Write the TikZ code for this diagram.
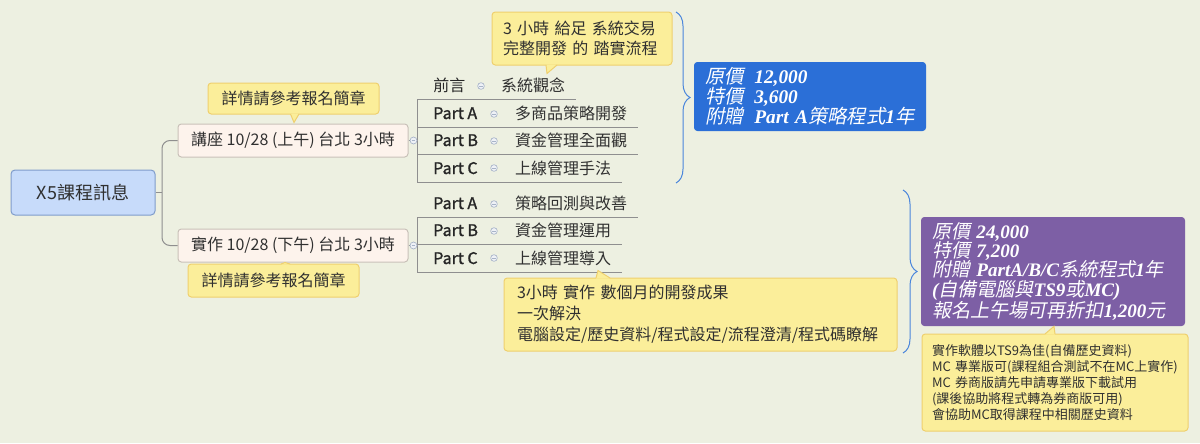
\documentclass[tikz,border=0pt]{standalone}
\usepackage{fontspec}
\setmainfont{Noto Sans CJK TC}
\newfontfamily\zhsl[FakeSlant=0.2]{Noto Sans CJK TC}
\newfontfamily\zhmd[FakeBold=1.4]{Noto Sans CJK TC}
\newfontfamily\enbi{Liberation Serif}
\newcommand\pn[1]{{\enbi\bfseries\itshape #1}}
\usepackage{tikz}
\usetikzlibrary{positioning,calc,decorations.pathreplacing}

\definecolor{bgcol}{HTML}{EDF0E1}
\definecolor{rootfill}{HTML}{C7DBFA}
\definecolor{rootline}{HTML}{7F9CCB}
\definecolor{topicfill}{HTML}{FDF3EC}
\definecolor{topicline}{HTML}{C9C1B9}
\definecolor{notefill}{HTML}{FBEE9A}
\definecolor{noteline}{HTML}{EFD06E}
\definecolor{linecol}{HTML}{8F8F8F}
\definecolor{bracecol}{HTML}{4A86DC}
\definecolor{bluebox}{HTML}{2B6FD7}
\definecolor{purplebox}{HTML}{7D5FA5}
\definecolor{txt}{HTML}{303030}
\definecolor{iconline}{HTML}{A8B4C8}
\definecolor{iconfill}{HTML}{EEF1F6}

\tikzset{
  root/.style={draw=rootline, fill=rootfill, rounded corners=3pt, line width=0.75pt,
    minimum width=108pt, minimum height=33.75pt, text=txt,
    font=\fontsize{13.5}{16}\selectfont},
  topic/.style={draw=topicline, fill=topicfill, rounded corners=2.5pt, line width=0.75pt,
    minimum width=172.5pt, minimum height=24.75pt, text=txt,
    font=\fontsize{12}{14}\selectfont},
  note/.style={draw=noteline, fill=notefill, rounded corners=2.5pt, line width=0.75pt,
    text=txt, align=left, inner ysep=0pt},
  tipline/.style={draw=noteline, line width=0.75pt},
  conn/.style={draw=linecol, line width=0.75pt},
  tag/.style={anchor=base west, inner sep=0pt, text=black!85,
    font=\zhmd\fontsize{12}{14}\selectfont},
  desc/.style={anchor=base west, inner xsep=0pt, outer xsep=8.25pt, outer ysep=0pt,
    inner ysep=3pt, text depth=3pt, text=txt, font=\fontsize{12}{14}\selectfont},
  fold/.style={circle, draw=iconline, fill=iconfill, minimum size=5pt, inner sep=0pt,
    line width=0.5pt, path picture={\draw[iconline, line width=0.6pt]
      ([xshift=-1.4pt]path picture bounding box.center) --
      ([xshift=1.4pt]path picture bounding box.center);}},
  price/.style={rounded corners=2.5pt, text=white, align=left, inner xsep=8.25pt,
    inner ysep=0pt, font=\zhsl\fontsize{14.5}{15}\selectfont},
  brace/.style={draw=bracecol, line width=0.75pt, decorate,
    decoration={brace, amplitude=10.5pt}}
}

\begin{document}
\begin{tikzpicture}[x=0.75pt,y=-0.75pt]
\fill[bgcol] (0,0) rectangle (1200,443);

\node[root] (root) at (83,192.5) {X5課程訊息};
\node[topic] (am) at (293,140.5) {講座 10/28 (上午) 台北 3小時};
\node[topic] (pm) at (293,245.5) {實作 10/28 (下午) 台北 3小時};

\coordinate (sp0) at (162,0);
\coordinate (sp1) at (417,0);
\draw[conn] (root.east) -- (root.east -| sp0);
\draw[conn, rounded corners=6pt] (am.west) -| (root.east -| sp0) |- (pm.west);
\draw[conn] (am.east) -- (am.east -| sp1);
\draw[conn] (pm.east) -- (pm.east -| sp1);

\node[tag, font=\fontsize{12}{14}\selectfont] (a0) at (433,91) {前言};
\node[desc] (a0d) at (490,91) {系統觀念};
\node[tag] (a1) at (433,119) {Part A};
\node[desc] (a1d) at (504,119) {多商品策略開發};
\node[tag] (a2) at (433,146) {Part B};
\node[desc] (a2d) at (504,146) {資金管理全面觀};
\node[tag] (a3) at (433,174) {Part C};
\node[desc] (a3d) at (504,174) {上線管理手法};

\node[tag] (b1) at (433,209) {Part A};
\node[desc] (b1d) at (504,209) {策略回測與改善};
\node[tag] (b2) at (433,236) {Part B};
\node[desc] (b2d) at (504,236) {資金管理運用};
\node[tag] (b3) at (433,264) {Part C};
\node[desc] (b3d) at (504,264) {上線管理導入};

\draw[conn] (a0d.south -| sp1) -- (a3d.south -| sp1);
\draw[conn] (b1d.south -| sp1) -- (b3d.south -| sp1);
\foreach \r in {a0d,a1d,a2d,a3d,b1d,b2d,b3d}
  \draw[conn] (\r.south -| sp1) -- (\r.south east);

\node[fold, minimum size=5.25pt] (fam) at ($(am.east)+(5,0)$) {};
\node[fold, minimum size=5.25pt] (fpm) at ($(pm.east)+(5,0)$) {};
\node[fold] (f0) at (481,86) {};
\foreach \y/\n in {114/f1,141/f2,168/f3,204/f4,231/f5,258/f6}
  \node[fold] (\n) at (494,\y) {};

\node[note, align=center, minimum width=128.25pt, minimum height=23.25pt,
  font=\fontsize{12}{14}\selectfont] (n1) at (293.5,98.5) {詳情請參考報名簡章};
\fill[notefill] ($(n1.south)+(-3,-1)$) -- ($(am.north)+(1,-1)$) -- ($(n1.south)+(5.5,-1)$) -- cycle;
\draw[tipline] ($(n1.south)+(-3,-0.5)$) -- ($(am.north)+(1,-1)$) -- ($(n1.south)+(5.5,-0.5)$);

\node[note, align=center, minimum width=128.25pt, minimum height=24.75pt,
  font=\fontsize{12}{14}\selectfont] (n2) at (273.5,280.5) {詳情請參考報名簡章};
\fill[notefill] ($(n2.north)+(7.5,1)$) -- ($(pm.south)+(-8,0)$) -- ($(n2.north)+(16.5,1)$) -- cycle;
\draw[tipline] ($(n2.north)+(7.5,0.5)$) -- ($(pm.south)+(-8,0)$) -- ($(n2.north)+(16.5,0.5)$);

\node[note, inner xsep=8.25pt, text width=118.5pt, minimum height=39.75pt,
  font=\fontsize{12}{15}\selectfont] (n3) at (582,38.5)
  {3 小時 給足 系統交易\\完整開發 的 踏實流程};
\fill[notefill] ($(n3.south)+(-36,-1)$) -- ($(n3.south)+(-35,8)$) -- ($(n3.south)+(-25,-1)$) -- cycle;
\draw[tipline] ($(n3.south)+(-36,-0.5)$) -- ($(n3.south)+(-35,8)$) -- ($(n3.south)+(-25,-0.5)$);

\node[note, inner xsep=9.75pt, text width=275.25pt, minimum height=54.75pt,
  font=\fontsize{12}{15.75}\selectfont] (n4) at (700.5,314.5)
  {3小時 實作 數個月的開發成果\\一次解決\\電腦設定/歷史資料/程式設定/流程澄清/程式碼瞭解};
\fill[notefill] ($(n4.north)+(-104.5,1)$) -- ($(n4.north)+(-102.5,-7)$) -- ($(n4.north)+(-90.5,1)$) -- cycle;
\draw[tipline] ($(n4.north)+(-104.5,0.5)$) -- ($(n4.north)+(-102.5,-7)$) -- ($(n4.north)+(-90.5,0.5)$);

\node[price, fill=bluebox, text width=157.5pt, minimum height=51.75pt] (bp) at (810,96.5)
  {原價\hspace{8pt}\pn{12,000}\\特價\hspace{8pt}\pn{3,600}\\附贈\hspace{8pt}\pn{Part A}策略程式\pn{1}年};

\node[price, fill=purplebox, text width=181.5pt, minimum height=81.75pt,
  font=\zhsl\fontsize{14.3}{14.5}\selectfont] (pp) at (1053,271.5)
  {原價 \pn{24,000}\\特價 \pn{7,200}\\附贈 \pn{PartA/B/C}系統程式\pn{1}年\\\pn{(}自備電腦與\pn{TS9}或\pn{MC)}\\報名上午場可再折扣\pn{1,200}元};

\node[note, inner xsep=7.5pt, text width=184.5pt, minimum height=72.75pt,
  font=\fontsize{9.75}{12}\selectfont] (n5) at (1055,382.5)
  {實作軟體以TS9為佳(自備歷史資料)\\MC 專業版可(課程組合測試不在MC上實作)\\MC 券商版請先申請專業版下載試用\\(課後協助將程式轉為券商版可用)\\會協助MC取得課程中相關歷史資料};
\fill[notefill] ($(n5.north)+(-10,1)$) -- ($(pp.south)+(1,0)$) -- ($(n5.north)+(0,1)$) -- cycle;
\draw[tipline] ($(n5.north)+(-10,0.5)$) -- ($(pp.south)+(1,0)$) -- ($(n5.north)+(0,0.5)$);

\coordinate (br1a) at (676,12);
\coordinate (br1b) at (676,183);
\coordinate (br2a) at (903,190);
\coordinate (br2b) at (903,353);
\draw[brace] (br1a) -- (br1b);
\draw[brace] (br2a) -- (br2b);
\end{tikzpicture}
\end{document}
